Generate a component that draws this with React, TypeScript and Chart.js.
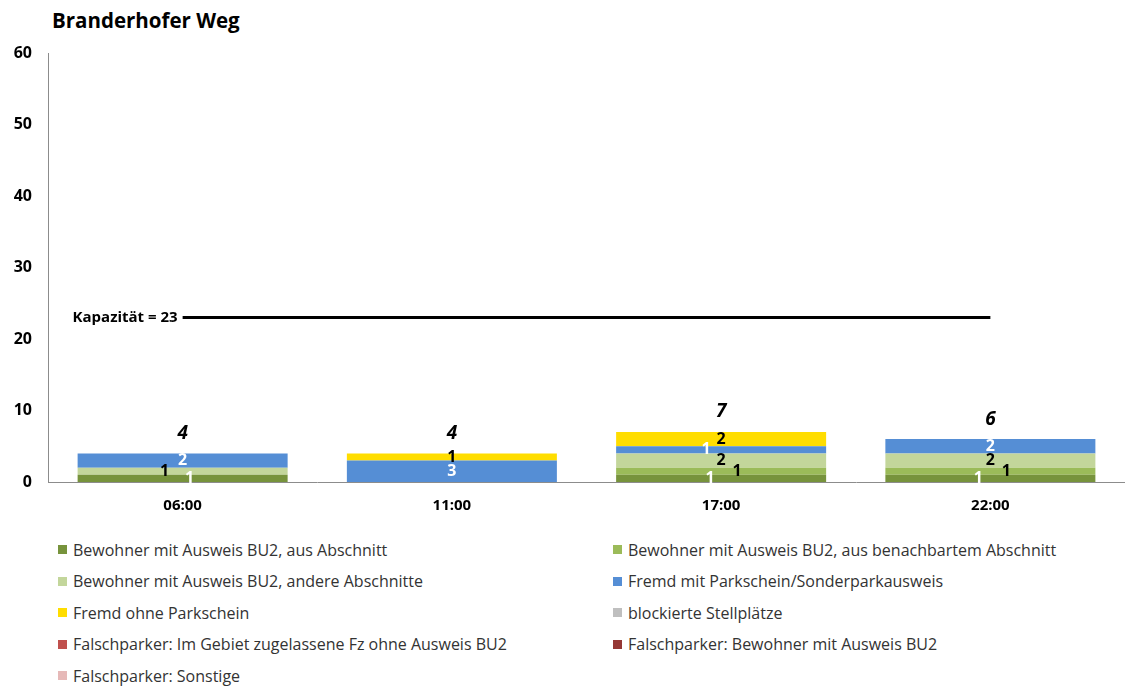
import React, { useEffect, useRef } from 'react';
import { Chart, registerables } from 'chart.js';

Chart.register(...registerables);

const chartTitle = 'Branderhofer Weg';
const categories = ['06:00', '11:00', '17:00', '22:00'];
const seriesNames = [
  'Bewohner mit Ausweis BU2, aus Abschnitt',
  'Bewohner mit Ausweis BU2, aus benachbartem Abschnitt',
  'Bewohner mit Ausweis BU2, andere Abschnitte',
  'Fremd mit Parkschein/Sonderparkausweis',
  'Fremd ohne Parkschein',
  'blockierte Stellplätze',
  'Falschparker: Im Gebiet zugelassene Fz ohne Ausweis BU2',
  'Falschparker: Bewohner mit Ausweis BU2',
  'Falschparker: Sonstige',
];
const seriesColors = ['#77933C', '#9BBB59', '#C3D69B', '#558ED5', '#FFDD00', '#BFBFBF', '#C0504D', '#953735', '#E6B9B8'];
const labelColors = ['#ffffff', '#000000', '#000000', '#ffffff', '#000000', '#000000', '#ffffff', '#ffffff', '#000000'];

const bewohnerAbschnitt = [1, 0, 1, 1];
const bewohnerBenachbart = [0, 0, 1, 1];
const bewohnerAndere = [1, 0, 2, 2];
const fremdMitParkschein = [2, 3, 1, 2];
const fremdOhneParkschein = [0, 1, 2, 0];
const blockiert = [0, 0, 0, 0];
const falschZugelassen = [0, 0, 0, 0];
const falschBewohner = [0, 0, 0, 0];
const falschSonstige = [0, 0, 0, 0];
const seriesValues = [
  bewohnerAbschnitt,
  bewohnerBenachbart,
  bewohnerAndere,
  fremdMitParkschein,
  fremdOhneParkschein,
  blockiert,
  falschZugelassen,
  falschBewohner,
  falschSonstige,
];
const totals = [4, 4, 7, 6];
const capacity = 23;
const capacityLabel = 'Kapazität = 23';
const yTicks = [0, 10, 20, 30, 40, 50, 60];

const FONT = '"Open Sans", Lato, sans-serif';

// label x-offsets (px) per series/category, mimicking the reference placement
const labelDx: Record<number, number[]> = {
  0: [7, 0, -11, -12],
  1: [0, 0, 16, 16],
  2: [-18, 0, 0, 0],
  3: [0, 0, -15, 0],
};

const labelPlugin = {
  id: 'customLabels',
  afterDatasetsDraw(chart: any) {
    const ctx = chart.ctx;
    ctx.save();
    ctx.textAlign = 'center';
    ctx.textBaseline = 'middle';
    seriesValues.forEach((vals, di) => {
      const meta = chart.getDatasetMeta(di);
      vals.forEach((v, i) => {
        if (!v) return;
        const el = meta.data[i];
        const dx = (labelDx[di] && labelDx[di][i]) || 0;
        const yc = (el.y + el.base) / 2;
        ctx.font = `bold 16px ${FONT}`;
        ctx.fillStyle = labelColors[di];
        ctx.fillText(String(v), el.x + dx, yc);
      });
    });
    const y = chart.scales.y;
    const x = chart.scales.x;
    totals.forEach((t, i) => {
      ctx.font = `italic bold 19px ${FONT}`;
      ctx.fillStyle = '#000';
      ctx.fillText(String(t), x.getPixelForValue(i), y.getPixelForValue(t) - 20);
    });
    ctx.font = `bold 15px ${FONT}`;
    ctx.textAlign = 'right';
    ctx.fillStyle = '#000';
    ctx.fillText(capacityLabel, x.getPixelForValue(0) - 5, y.getPixelForValue(capacity));
    ctx.restore();
  },
};

export default function App() {
  const ref = useRef<HTMLCanvasElement | null>(null);

  useEffect(() => {
    if (!ref.current) return;
    const datasets: any[] = seriesNames.map((name, i) => ({
      type: 'bar',
      label: name,
      data: seriesValues[i],
      backgroundColor: seriesColors[i],
      borderWidth: 0,
      stack: 'parking',
      barPercentage: 0.78,
      categoryPercentage: 1,
      order: 2,
    }));
    datasets.push({
      type: 'line',
      label: capacityLabel,
      data: categories.map(() => capacity),
      borderColor: '#000',
      borderWidth: 3,
      pointRadius: 0,
      fill: false,
      stack: 'capacity',
      order: 1,
    });
    const chart = new Chart(ref.current, {
      type: 'bar',
      data: { labels: categories, datasets },
      options: {
        animation: false,
        responsive: false,
        maintainAspectRatio: false,
        layout: { padding: { top: 53, left: 0, right: 0, bottom: 0 } },
        plugins: {
          legend: { display: false },
          tooltip: { enabled: false },
          title: { display: false },
        },
        scales: {
          x: {
            stacked: true,
            grid: { display: false, drawTicks: false },
            border: { display: true, color: '#8c8c8c', width: 1 },
            ticks: {
              color: '#000',
              font: { family: FONT, size: 15, weight: 'bold' },
              padding: 15,
            },
            afterFit(scale: any) {
              scale.height = 48;
            },
          },
          y: {
            stacked: true,
            min: 0,
            max: 60,
            afterBuildTicks(scale: any) {
              scale.ticks = yTicks.map((v) => ({ value: v }));
            },
            grid: { display: false, drawTicks: false },
            border: { display: true, color: '#8c8c8c', width: 1 },
            ticks: {
              color: '#000',
              font: { family: FONT, size: 16, weight: 'bold' },
              padding: 16,
            },
            afterFit(scale: any) {
              scale.width = 48;
            },
          },
        },
      },
      plugins: [labelPlugin],
    });
    return () => chart.destroy();
  }, []);

  return (
    <div style={{ position: 'absolute', left: 0, top: 0, width: 1125, height: 688, background: '#fff', fontFamily: FONT }}>
      <div style={{ position: 'absolute', left: 52, top: 6, fontSize: 20.5, fontWeight: 'bold', color: '#000', lineHeight: '28px' }}>
        {chartTitle}
      </div>
      <canvas ref={ref} width={1125} height={530} style={{ position: 'absolute', left: 0, top: 0, width: 1125, height: 530 }} />
      <div
        style={{
          position: 'absolute',
          left: 58,
          top: 534,
          display: 'grid',
          gridTemplateColumns: '555px 500px',
          gridAutoRows: '31.5px',
          fontSize: 16,
          color: '#333',
        }}
      >
        {seriesNames.map((name, i) => (
          <div key={name} style={{ display: 'flex', alignItems: 'center', whiteSpace: 'nowrap' }}>
            <span style={{ display: 'inline-block', width: 9, height: 9, background: seriesColors[i], marginRight: 6 }} />
            {name}
          </div>
        ))}
      </div>
    </div>
  );
}
